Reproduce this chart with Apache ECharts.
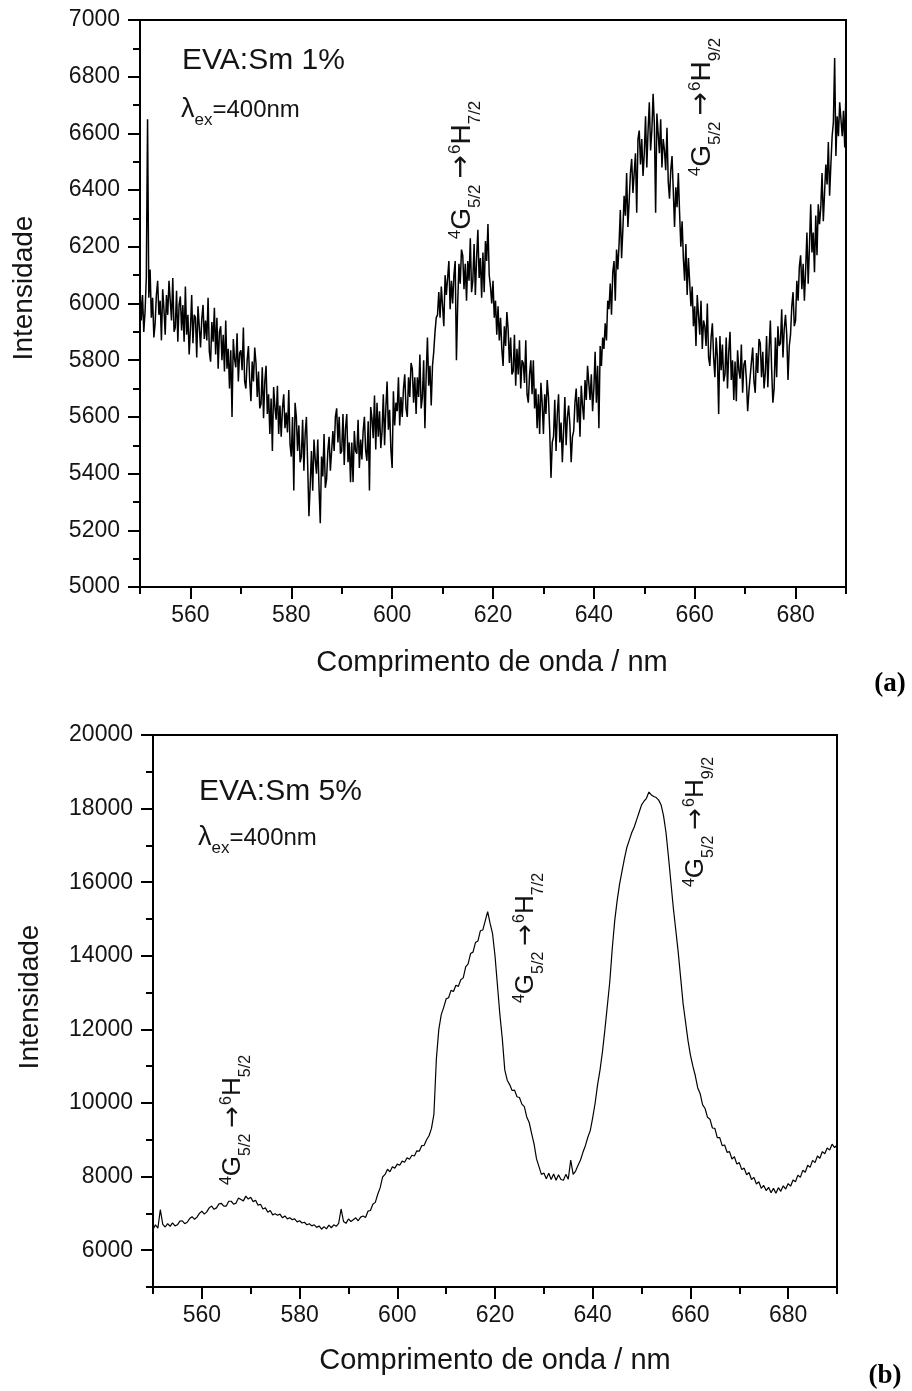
<!DOCTYPE html>
<html><head><meta charset="utf-8">
<script src="https://cdn.jsdelivr.net/npm/echarts@6/dist/echarts.min.js"></script>
<style>html,body{margin:0;padding:0;background:#fff}#c{width:912px;height:1391px}</style>
</head><body><div id="c"></div>
<script>
// ---- Panel (a): EVA:Sm 1%, sampled every 0.25 nm from 550 nm ----
const startA = 550, stepA = 0.25;
const intensityA = [
6060,5940,6030,5900, 5970,6090,6650,6020, 6120,5950,6020,5880, 5930,6030,6080,5960, 6010,5870,6050,5980,
5890,6030,5960,6080, 6010,5940,6090,5900, 5915,6045,5865,5995, 6025,5905,5995,5865, 6060,5890,5960,5820,
5910,6030,5860,5960, 5950,5810,5990,5920, 5845,5945,5995,5875, 5940,5870,6020,5830, 5795,5935,5865,5985,
5820,5950,5770,5900, 5920,5800,5890,5760, 5940,5770,5840,5700, 5835,5600,5875,5805, 5775,5895,5725,5825,
5835,5765,5915,5725, 5700,5800,5850,5730, 5655,5795,5725,5845, 5790,5670,5760,5630, 5645,5775,5595,5725,
5780,5610,5680,5540, 5665,5480,5705,5635, 5590,5710,5540,5640, 5530,5630,5680,5560, 5615,5545,5695,5505,
5460,5600,5340,5650, 5600,5480,5570,5440, 5460,5590,5410,5540, 5600,5430,5250,5360, 5480,5340,5520,5450,
5400,5520,5350,5225, 5460,5390,5540,5350, 5380,5480,5530,5410, 5410,5550,5480,5600, 5630,5510,5600,5470,
5480,5610,5430,5560, 5610,5440,5510,5370, 5510,5370,5550,5480, 5470,5590,5420,5520, 5450,5550,5600,5480,
5445,5585,5340,5635, 5595,5525,5675,5485, 5650,5530,5620,5490, 5550,5680,5500,5630, 5725,5555,5625,5485,
5420,5690,5570,5650, 5620,5740,5570,5670, 5600,5700,5750,5630, 5600,5740,5670,5790, 5770,5650,5740,5610,
5740,5670,5820,5630, 5670,5800,5560,5750, 5880,5710,5780,5640, 5780,5830,5900,5950, 5960,6040,5950,6060,
6060,5920,6100,6030, 6030,6150,5980,6080, 6000,6100,6150,5800, 6000,6140,6070,6190, 6170,6050,6140,6010,
6150,6080,6230,6040, 6080,6210,6030,6160, 6260,6090,6160,6020, 6180,6040,6220,6150, 6280,6100,6060,6000,
6080,5950,6010,5890, 5990,5870,5950,5840, 5780,5920,5850,5970, 5910,5790,5880,5750, 5760,5890,5710,5840,
5750,5870,5700,5800, 5790,5720,5870,5680, 5650,5750,5800,5680, 5800,5630,5700,5560, 5680,5540,5720,5650,
5540,5680,5610,5730, 5670,5550,5385,5510, 5530,5660,5480,5610, 5680,5510,5580,5440, 5550,5670,5500,5600,
5640,5570,5440,5530, 5550,5650,5700,5580, 5670,5530,5710,5640, 5590,5730,5660,5780, 5780,5660,5750,5620,
5700,5830,5650,5780, 5560,5850,5780,5880, 5840,5930,5870,6010, 5980,6070,5960,6110, 6150,6010,6190,6120,
6210,6330,6160,6260, 6380,6310,6460,6270, 6360,6460,6510,6390, 6390,6530,6320,6580, 6610,6490,6580,6450,
6530,6660,6480,6610, 6710,6540,6610,6740, 6630,6320,6670,6600, 6530,6650,6480,6580, 6540,6470,6620,6430,
6370,6470,6520,6400, 6270,6410,6340,6460, 6320,6200,6290,6160, 6080,6210,6030,6160, 6160,5990,6060,5920,
5990,5850,6030,5960, 5890,6010,5840,5940, 5920,5850,6000,5810, 5780,5880,5930,5810, 5740,5880,5810,5610,
5885,5765,5855,5725, 5750,5880,5700,5830, 5900,5730,5800,5660, 5795,5655,5835,5765, 5735,5855,5685,5785,
5800,5730,5620,5690, 5695,5795,5845,5725, 5685,5825,5755,5875, 5860,5740,5830,5700, 5755,5885,5705,5835,
5940,5770,5650,5700, 5880,5740,5920,5850, 5860,5980,5810,5910, 5960,5890,5730,5850, 5890,5990,6040,5920,
5940,6080,6010,6130, 6170,6050,6140,6010, 6120,6250,6070,6200, 6350,6180,6250,6110, 6310,6170,6350,6280,
6340,6460,6290,6390, 6490,6420,6570,6380, 6490,6590,6640,6866, 6520,6660,6590,6710, 6710,6590,6680,6550,
6760
];

// ---- Panel (b): EVA:Sm 5%, sampled every 0.5 nm from 550 nm ----
const startB = 550, stepB = 0.5;
const intensityB = [
6560,6690, 6600,7100, 6700,6630, 6720,6650, 6740,6660, 6690,6790, 6800,6720, 6760,6860, 6910,6840, 6900,7000,
7060,6980, 7040,7150, 7200,7110, 7150,7260, 7270,7200, 7200,7330, 7330,7250, 7280,7420, 7380,7340, 7470,7390,
7440,7320, 7360,7220, 7250,7120, 7150,7030, 7080,6960, 6990,6950, 6980,6880, 6930,6850, 6880,6830, 6850,6770,
6800,6740, 6760,6690, 6720,6660, 6690,6620, 6660,6570, 6640,6580, 6680,6610, 6690,6650, 6730,7120, 6780,6730,
6850,6780, 6830,6880, 6800,6900, 6930,6890, 7060,7080, 7250,7300, 7520,7700, 7990,8060, 8200,8130, 8270,8230,
8340,8310, 8420,8390, 8510,8470, 8580,8560, 8700,8690, 8840,8850, 9000,9110, 9310,9700, 11200,12000, 12400,12600,
12830,12860, 13060,13030, 13200,13170, 13350,13400, 13700,13780, 14060,14100, 14360,14400, 14680,14700, 14950,15200, 14880,14600,
14000,13200, 12400,11740, 10900,10620, 10500,10340, 10350,10170, 10150,9970, 9900,9620, 9470,9170, 8880,8480, 8270,8060,
8100,7940, 8090,7920, 8070,7900, 8050,7920, 7900,8060, 7930,8450, 8060,8150, 8310,8450, 8660,8840, 9070,9250,
9600,10000, 10500,10900, 11400,12000, 12650,13300, 14200,14950, 15500,15950, 16300,16650, 16950,17150, 17350,17500, 17700,17900,
18100,18200, 18280,18450, 18370,18330, 18300,18230, 18100,17800, 17350,16700, 16000,15300, 14700,14100, 13400,12700, 12200,11700,
11300,11000, 10740,10410, 10250,9950, 9850,9610, 9560,9320, 9310,9060, 9060,8840, 8860,8660, 8680,8480, 8540,8340,
8380,8190, 8230,8050, 8110,7920, 7980,7800, 7860,7680, 7760,7620, 7710,7560, 7680,7550, 7700,7600, 7750,7660,
7810,7740, 7910,7860, 8040,7980, 8170,8120, 8310,8250, 8440,8380, 8560,8500, 8680,8620, 8780,8720, 8880,8790,
8850
];

// ---- tick values ----
const xMajorTicks = [560, 580, 600, 620, 640, 660, 680];
const xMinorTicks = [550, 570, 590, 610, 630, 650, 670, 690];
const yMajorTicksB = [6000, 8000, 10000, 12000, 14000, 16000, 18000, 20000];
const yMinorTicksB = [5000, 7000, 9000, 11000, 13000, 15000, 17000, 19000];

const dataA = intensityA.map((v, i) => [startA + i * stepA, v]);
const dataB = intensityB.map((v, i) => [startB + i * stepB, v]);

const F = '"Liberation Sans", Arial, Helvetica, sans-serif';
const TXT = '#141414';
const line2 = { color: '#000', width: 2 };
const plain = v => String(v);

function xMajor(grid) {
  return { gridIndex: grid, type: 'value', min: 550, max: 690, position: 'bottom',
    axisLine: { show: true, onZero: false, lineStyle: line2 },
    axisTick: { show: true, inside: false, length: 12, lineStyle: line2, customValues: xMajorTicks },
    axisLabel: { show: true, customValues: xMajorTicks, formatter: plain, fontSize: 23, fontFamily: F, color: TXT, margin: 17 },
    splitLine: { show: false } };
}
function xMinor(grid) {
  return { gridIndex: grid, type: 'value', min: 550, max: 690, position: 'bottom',
    axisLine: { show: false, onZero: false },
    axisTick: { show: true, inside: false, length: 7, lineStyle: line2, customValues: xMinorTicks },
    axisLabel: { show: false }, splitLine: { show: false } };
}

const option = {
  animation: false,
  backgroundColor: '#fff',
  grid: [
    { left: 140, top: 20, width: 706, height: 567, show: true, borderColor: '#000', borderWidth: 2, containLabel: false, outerBoundsMode: 'none' },
    { left: 153, top: 735, width: 684, height: 552, show: true, borderColor: '#000', borderWidth: 2, containLabel: false, outerBoundsMode: 'none' }
  ],
  xAxis: [xMajor(0), xMinor(0), xMajor(1), xMinor(1)],
  yAxis: [
    { gridIndex: 0, type: 'value', min: 5000, max: 7000, interval: 200, position: 'left',
      axisLine: { show: true, onZero: false, lineStyle: line2 },
      axisTick: { show: true, inside: false, length: 12, lineStyle: line2 },
      minorTick: { show: true, splitNumber: 2, length: 7, lineStyle: line2 },
      axisLabel: { formatter: plain, fontSize: 23, fontFamily: F, color: TXT, margin: 20 },
      splitLine: { show: false }, minorSplitLine: { show: false } },
    { gridIndex: 1, type: 'value', min: 5000, max: 20000, position: 'left',
      axisLine: { show: true, onZero: false, lineStyle: line2 },
      axisTick: { show: true, inside: false, length: 12, lineStyle: line2, customValues: yMajorTicksB },
      axisLabel: { customValues: yMajorTicksB, formatter: plain, fontSize: 23, fontFamily: F, color: TXT, margin: 20 },
      splitLine: { show: false } },
    { gridIndex: 1, type: 'value', min: 5000, max: 20000, position: 'left',
      axisLine: { show: false, onZero: false },
      axisTick: { show: true, inside: false, length: 7, lineStyle: line2, customValues: yMinorTicksB },
      axisLabel: { show: false }, splitLine: { show: false } }
  ],
  series: [
    { type: 'line', xAxisIndex: 0, yAxisIndex: 0, data: dataA, symbol: 'none', showSymbol: false,
      lineStyle: { color: '#000', width: 1.5 }, silent: true },
    { type: 'line', xAxisIndex: 2, yAxisIndex: 1, data: dataB, symbol: 'none', showSymbol: false,
      lineStyle: { color: '#000', width: 1.2 }, silent: true }
  ]
};

function ann(x, y, lower, upper, big, small, lh, pad) {
  return { type: 'text', x: x, y: y, rotation: Math.PI / 2, z: 100,
    style: {
      text: '{sup|' + lower[0] + '}{m|' + lower[1] + '}{sub|' + lower[2] + '}{a|→}{sup|' + upper[0] + '}{m|' + upper[1] + '}{sub|' + upper[2] + '}',
      align: 'center', verticalAlign: 'middle', fill: TXT,
      rich: {
        m: { fontSize: big, fontFamily: F, lineHeight: lh, fill: TXT },
        sup: { fontSize: small, fontFamily: F, verticalAlign: 'top', padding: [pad, 0, 0, 0], fill: TXT },
        sub: { fontSize: small, fontFamily: F, verticalAlign: 'bottom', fill: TXT },
        a: { fontSize: big, fontFamily: '"DejaVu Sans", sans-serif', lineHeight: lh, padding: [0, 1, 0, 6], fill: TXT }
      }
    } };
}
function lam(x, y) {
  return { type: 'text', x: x, y: y, z: 100, style: {
    text: '{l|λ}{s|ex}{m|=400nm}', verticalAlign: 'middle', fill: TXT,
    rich: { l: { fontSize: 27, fontFamily: F, lineHeight: 38, fill: TXT },
            s: { fontSize: 17, fontFamily: F, verticalAlign: 'bottom', fill: TXT },
            m: { fontSize: 24, fontFamily: F, lineHeight: 38, fill: TXT } } } };
}
function txt(x, y, s, size, extra) {
  return { type: 'text', x: x, y: y, z: 100, style: Object.assign({ text: s, fontSize: size, fontFamily: F, fill: TXT, verticalAlign: 'middle' }, extra || {}) };
}
function rot(el) { el.rotation = Math.PI / 2; return el; }
const serifBold = { align: 'center', fontFamily: '"Liberation Serif", "Times New Roman", serif', fontWeight: 'bold', fill: '#000' };

option.graphic = [
  txt(182, 61, 'EVA:Sm 1%', 30),
  lam(181, 110),
  txt(199, 792, 'EVA:Sm 5%', 30),
  lam(198, 838),
  rot(txt(24, 288, 'Intensidade', 28, { align: 'center' })),
  rot(txt(30, 997, 'Intensidade', 28, { align: 'center' })),
  txt(492, 663, 'Comprimento de onda / nm', 29, { align: 'center' }),
  txt(495, 1361, 'Comprimento de onda / nm', 29, { align: 'center' }),
  txt(890, 684, '(a)', 27, serifBold),
  txt(885, 1376, '(b)', 27, serifBold),
  ann(462, 170, ['4', 'G', '5/2'], ['6', 'H', '7/2'], 28, 17, 44, 7),
  ann(702, 107, ['4', 'G', '5/2'], ['6', 'H', '9/2'], 28, 17, 44, 7),
  ann(233, 1120, ['4', 'G', '5/2'], ['6', 'H', '5/2'], 26, 16, 41, 6),
  ann(526, 938, ['4', 'G', '5/2'], ['6', 'H', '7/2'], 26, 16, 41, 6),
  ann(696, 822, ['4', 'G', '5/2'], ['6', 'H', '9/2'], 26, 16, 41, 6)
];

const chart = echarts.init(document.getElementById('c'), null, { renderer: 'canvas' });
chart.setOption(option);
</script>
</body></html>
